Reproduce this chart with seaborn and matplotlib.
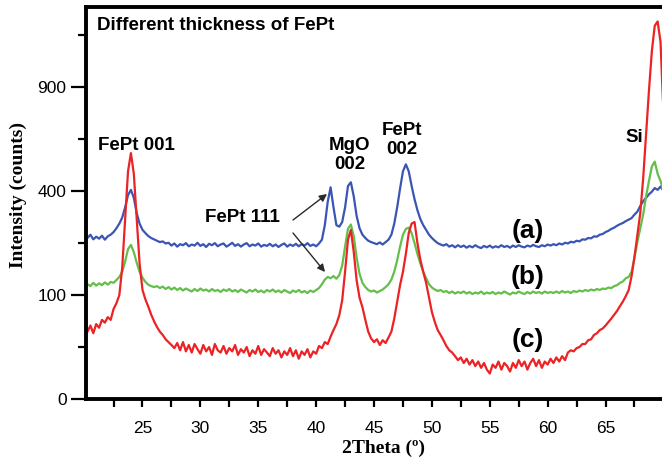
import numpy as np
import pandas as pd
import matplotlib
matplotlib.use("Agg")
import matplotlib.pyplot as plt
import seaborn as sns

# ---------------- data ----------------
two_theta = np.arange(20.25, 70.001, 0.25)  # 200 sample positions

counts_a = [
    240, 250, 236, 244, 238, 247, 235, 245, 250, 258, 270, 285, 305, 340, 385, 405, 375, 320, 285, 265,
    255, 246, 240, 236, 232, 228, 230, 224, 226, 218, 224, 215, 222, 219, 225, 216, 221, 218, 226, 217,
    222, 214, 223, 219, 225, 216, 221, 224, 215, 220, 226, 217, 222, 215, 221, 225, 216, 221, 218, 224,
    215, 220, 217, 223, 216, 221, 214, 220, 224, 215, 221, 217, 223, 216, 222, 218, 225, 217, 221, 216,
    224, 235, 280, 360, 415, 340, 280, 275, 290, 340, 420, 435, 380, 310, 270, 250, 240, 232, 228, 225,
    222, 227, 221, 228, 235, 250, 285, 340, 410, 480, 510, 480, 420, 370, 330, 300, 280, 265, 250, 240,
    232, 225, 221, 218, 222, 215, 219, 213, 219, 214, 218, 212, 217, 213, 219, 214, 211, 217, 213, 218,
    212, 216, 213, 219, 214, 217, 212, 218, 214, 219, 215, 213, 218, 215, 220, 216, 214, 219, 216, 221,
    218, 222, 219, 224, 221, 226, 224, 229, 227, 232, 230, 236, 235, 240, 239, 245, 244, 250, 252, 258,
    262, 268, 272, 278, 283, 287, 293, 298, 303, 315, 325, 345, 362, 375, 388, 398, 412, 405, 418, 402,
]

counts_b = [
    122, 118, 125, 119, 124, 120, 126, 121, 127, 125, 131, 138, 150, 175, 208, 220, 200, 172, 150, 136,
    127, 121, 118, 116, 118, 114, 117, 112, 116, 111, 115, 110, 114, 109, 113, 110, 107, 112, 108, 113,
    109, 111, 107, 112, 108, 110, 106, 111, 108, 112, 107, 110, 106, 111, 108, 105, 110, 107, 111, 106,
    109, 105, 110, 107, 111, 106, 109, 105, 110, 107, 104, 109, 106, 110, 105, 108, 104, 109, 106, 110,
    114, 122, 132, 138, 135, 140, 134, 142, 165, 215, 268, 282, 245, 185, 145, 125, 116, 110, 107, 109,
    105, 108, 111, 116, 122, 132, 150, 178, 215, 250, 268, 272, 255, 225, 195, 170, 150, 135, 122, 115,
    111, 108, 110, 106, 108, 104, 107, 103, 106, 104, 107, 103, 106, 102, 105, 103, 107, 102, 105, 103,
    106, 102, 105, 103, 107, 104, 101, 105, 103, 107, 104, 102, 106, 103, 107, 104, 106, 103, 107, 104,
    106, 104, 107, 104, 108, 105, 107, 104, 108, 106, 109, 107, 110, 108, 111, 109, 112, 110, 113, 112,
    115, 114, 118, 120, 125, 128, 135, 138, 150, 185, 228, 270, 315, 380, 440, 500, 522, 470, 440, 400,
]

counts_c = [
    42, 50, 40, 52, 47, 58, 54, 62, 58, 75, 85, 100, 160, 300, 480, 560, 470, 300, 170, 110,
    92, 79, 66, 56, 48, 42, 38, 33, 30, 27, 24, 29, 22, 30, 21, 27, 20, 28, 23, 19,
    27, 21, 25, 18, 28, 22, 20, 26, 19, 24, 21, 27, 18, 23, 20, 25, 17, 22, 19, 26,
    18, 23, 20, 17, 24, 19, 22, 16, 21, 18, 24, 17, 22, 15, 21, 18, 23, 16, 21, 19,
    26, 24, 30, 28, 36, 44, 52, 65, 90, 150, 235, 265, 200, 130, 95, 78, 58, 42, 34, 30,
    33, 27, 32, 29, 35, 42, 60, 88, 120, 150, 195, 255, 285, 290, 225, 180, 150, 125, 95, 70,
    55, 44, 38, 32, 26, 22, 20, 17, 14, 16, 12, 15, 11, 14, 10, 13, 9, 12, 8, 6,
    11, 9, 13, 8, 12, 10, 7, 12, 9, 14, 10, 13, 8, 12, 15, 10, 14, 9, 13, 11,
    15, 12, 16, 13, 17, 14, 20, 22, 21, 24, 25, 28, 28, 32, 33, 38, 40, 44, 46, 50,
    55, 60, 66, 72, 80, 88, 98, 110, 140, 187, 250, 320, 450, 650, 880, 1120, 1290, 1320, 1180, 760,
]

samples = ["(a)", "(b)", "(c)"]
x_ticks = [25, 30, 35, 40, 45, 50, 55, 60, 65]
y_ticks = [0, 100, 400, 900]
y_minor = [25, 225, 625, 1225]
peak_labels = ["FePt 001", "MgO\n002", "FePt\n002", "Si", "FePt 111"]
title_text = "Different thickness of FePt"

# ---------------- figure ----------------
sns.set_style("ticks")
plt.rcParams["font.family"] = ["Liberation Sans", "DejaVu Sans"]
plt.rcParams["text.color"] = "black"
plt.rcParams["axes.labelcolor"] = "black"
plt.rcParams["xtick.color"] = "black"
plt.rcParams["ytick.color"] = "black"

W, H = 662, 463
fig = plt.figure(figsize=(W / 100, H / 100), dpi=100)
ax = fig.add_axes([86 / W, 1 - 399 / H, 578 / W, 392 / H])

df = pd.concat([
    pd.DataFrame({"2theta": two_theta, "counts": counts_a, "sample": samples[0]}),
    pd.DataFrame({"2theta": two_theta, "counts": counts_b, "sample": samples[1]}),
    pd.DataFrame({"2theta": two_theta, "counts": counts_c, "sample": samples[2]}),
])
palette = {"(a)": "#3a55b4", "(b)": "#63bf4a", "(c)": "#ec2224"}
sns.lineplot(data=df, x="2theta", y="counts", hue="sample", palette=palette,
             sort=False, estimator=None, legend=False, linewidth=1.6, ax=ax)

ax.set_yscale("function", functions=(lambda v: np.sqrt(np.clip(v, 0, None)),
                                     lambda v: np.square(v)))
ax.set_xlim(20.12, 70.05)
ax.set_ylim(0, 1423)

ax.set_xticks(x_ticks)
ax.set_xticks([t + 2.5 for t in [20] + x_ticks], minor=True)
ax.set_yticks(y_ticks)
ax.set_yticklabels([str(v) for v in y_ticks])
ax.set_yticks(y_minor, minor=True)
ax.set_yticklabels([], minor=True)

ax.tick_params(axis="both", which="major", labelsize=12.5, width=1.6, color="black",
               labelcolor="black", direction="out")
ax.tick_params(axis="x", which="major", length=6, pad=10)
ax.tick_params(axis="x", which="minor", length=6, width=1.6, color="black")
ax.tick_params(axis="y", which="major", length=11, pad=3)
ax.tick_params(axis="y", which="minor", length=6, width=1.6, color="black")

for side in ["left", "bottom", "top"]:
    ax.spines[side].set_visible(True)
    ax.spines[side].set_linewidth(2.8)
    ax.spines[side].set_color("black")
ax.spines["right"].set_visible(False)

serif = ["Liberation Serif", "DejaVu Serif"]
ax.set_xlabel("2Theta (º)", fontsize=14, fontweight="bold", family=serif, color="black")
ax.set_ylabel("Intensity (counts)", fontsize=14, fontweight="bold", family=serif, color="black")
ax.xaxis.label.set_va("center")
ax.yaxis.label.set_va("center")
ax.xaxis.set_label_coords((384 - 86) / 578, (399 - 448) / 392)
ax.yaxis.set_label_coords((18 - 86) / 578, (399 - 195) / 392)


def fx(px):
    return px / W


def fy(py):
    return 1 - py / H


fig.text(fx(97), fy(25), title_text, fontsize=13.5, fontweight="bold",
         ha="left", va="center", color="black")

lab_pos = [(136, 145), (350, 155), (402, 140), (634, 138), (242, 217)]
for txt, (px, py) in zip(peak_labels, lab_pos):
    fig.text(fx(px), fy(py), txt, fontsize=13.5, fontweight="bold",
             ha="center", va="center", linespacing=1.2, color="black")

for txt, (px, py) in zip(samples, [(528, 231), (528, 277), (528, 340)]):
    fig.text(fx(px), fy(py), txt, fontsize=19, fontweight="bold",
             ha="center", va="center", color="black")

arrow_kw = dict(arrowstyle="-|>", color="#2a2a2a", lw=1.0, mutation_scale=11,
                shrinkA=0, shrinkB=0)
ax.annotate("", xy=(327, H - 194), xytext=(293, H - 220),
            xycoords="figure pixels", textcoords="figure pixels", arrowprops=arrow_kw)
ax.annotate("", xy=(325, H - 272), xytext=(293, H - 233),
            xycoords="figure pixels", textcoords="figure pixels", arrowprops=arrow_kw)

fig.savefig("out.png", dpi=100)
